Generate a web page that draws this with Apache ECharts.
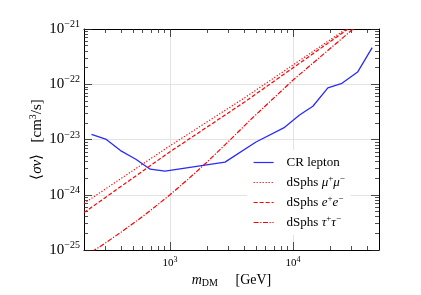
<!DOCTYPE html>
<html><head><meta charset="utf-8">
<script src="https://cdn.jsdelivr.net/npm/echarts@6/dist/echarts.min.js"></script>
<style>html,body{margin:0;padding:0;background:#fff}#c{width:421px;height:295px}</style>
</head><body><div id="c"></div>
<script>
// ---- data ----
const crX = [230, 300, 396, 528, 690, 910, 2800, 5000, 8400, 11300, 14500, 19200, 25000, 33500, 44000];
const crY = [1.24e-23, 1.02e-23, 6.3e-24, 4.4e-24, 2.9e-24, 2.67e-24, 3.9e-24, 9.0e-24, 1.62e-23, 2.77e-23, 4.0e-23, 8.6e-23, 1.04e-22, 1.66e-22, 4.6e-22];
const mumuX = [200, 1000, 4000, 27000];
const mumuY = [7.0e-25, 7.7e-24, 5.6e-23, 1e-21];
const eeX = [200, 1000, 4000, 28000];
const eeY = [4.75e-25, 6.0e-24, 4.7e-23, 1e-21];
const tauX = [200, 300, 400, 600, 800, 1000, 1400, 2000, 3000, 4490, 10000, 30800];
const tauY = [7.5e-26, 1.35e-25, 2.1e-25, 4.05e-25, 6.7e-25, 1.0e-24, 1.9e-24, 3.9e-24, 9.3e-24, 2.25e-23, 1.19e-22, 1e-21];
const seriesNames = ['CR lepton', 'dSphs μ+μ−', 'dSphs e+e−', 'dSphs τ+τ−'];
const legendLabels = [
  '{t|CR lepton}',
  '{t|dSphs }{i|μ}{s|+}{i|μ}{s|−}',
  '{t|dSphs }{i|e}{s|+}{i|e}{s|−}',
  '{t|dSphs }{i|τ}{s|+}{i|τ}{s|−}'
];
const xMajorTicks = [1e3, 1e4];
const yMajorExponents = [-25, -24, -23, -22, -21];
const xRange = [200, 50000];
const yRange = [1e-25, 1e-21];

// Tick axes for y are expressed in units of 10^yBaseExp (ECharts rounds tiny raw tick values to 0)
const yBaseExp = -25;
const yTickRange = [1, 1e4];
const yMajorTicksScaled = yMajorExponents.map(e => Math.pow(10, e - yBaseExp));

function minors(lo, hi, e0, e1) {
  const out = [];
  for (let e = e0; e <= e1; e++) {
    for (let k = 2; k <= 9; k++) {
      const v = k * Math.pow(10, e);
      if (v > lo * 1.0001 && v < hi * 0.9999) out.push(v);
    }
  }
  return out;
}
const xMinorTicks = minors(xRange[0], xRange[1], 2, 4);
const yMinorTicksScaled = minors(yTickRange[0], yTickRange[1], 0, 3);

const pairs = (xs, ys) => xs.map((x, i) => [x, ys[i]]);
const serif = 'Liberation Serif';
function supLabel(e) { return '{b|10}{s|' + (e < 0 ? '−' + (-e) : e) + '}'; }
const tickColor = '#222';

function tickAxis(pos, range, ticks, len, showLine, labelCfg) {
  return {
    type: 'log', logBase: 10, gridIndex: 0, position: pos,
    min: range[0], max: range[1],
    axisLine: { show: showLine, onZero: false, lineStyle: { color: '#000', width: 1 } },
    axisTick: { show: true, inside: true, length: len, customValues: ticks, lineStyle: { color: tickColor, width: 0.8 } },
    axisLabel: labelCfg ? Object.assign({ show: true, customValues: ticks }, labelCfg) : { show: false },
    splitLine: { show: !!labelCfg, lineStyle: { color: '#e3e3e3', width: 1 } },
    minorTick: { show: false }, minorSplitLine: { show: false }
  };
}

const xLabelCfg = {
  margin: 6,
  formatter: v => supLabel(Math.round(Math.log10(v))),
  rich: { b: { fontFamily: serif, fontSize: 11, color: '#000' },
          s: { fontFamily: serif, fontSize: 8, color: '#000', padding: [0, 0, 6, 0] } }
};
const yLabelCfg = {
  margin: 4,
  formatter: v => supLabel(Math.round(Math.log10(v)) + yBaseExp),
  rich: { b: { fontFamily: serif, fontSize: 15, color: '#000' },
          s: { fontFamily: serif, fontSize: 10, color: '#000', padding: [0, 0, 9, 0] } }
};

const xAxes = [
  tickAxis('bottom', xRange, xMajorTicks, 8, true, xLabelCfg),
  tickAxis('bottom', xRange, xMinorTicks, 4, false, null),
  tickAxis('top', xRange, xMajorTicks, 8, true, null),
  tickAxis('top', xRange, xMinorTicks, 4, false, null)
];
xAxes[0].name = '{i|m}{sub|DM}{t|     [GeV]}';
xAxes[0].nameLocation = 'middle';
xAxes[0].nameGap = 14;
xAxes[0].nameTextStyle = {
  rich: {
    i: { fontFamily: serif, fontStyle: 'italic', fontSize: 14, color: '#000' },
    sub: { fontFamily: serif, fontSize: 10, color: '#000', padding: [5, 0, 0, 0] },
    t: { fontFamily: serif, fontSize: 14, color: '#000' }
  }
};

// yAxis 0 carries the data (real units); the others draw ticks, labels and grid lines.
const yAxes = [
  {
    type: 'log', logBase: 10, gridIndex: 0, position: 'left',
    min: yRange[0], max: yRange[1],
    axisLine: { show: true, onZero: false, lineStyle: { color: '#000', width: 1 } },
    axisTick: { show: false }, axisLabel: { show: false }, splitLine: { show: false },
    minorTick: { show: false }, minorSplitLine: { show: false },
    name: '{t|⟨}{i|σv}{t|⟩   [cm}{s|3}{t|/s]}',
    nameLocation: 'middle', nameGap: 38, nameRotate: 90,
    nameTextStyle: {
      rich: {
        i: { fontFamily: serif, fontStyle: 'italic', fontSize: 15, color: '#000' },
        t: { fontFamily: serif, fontSize: 15, color: '#000' },
        s: { fontFamily: serif, fontSize: 10, color: '#000', padding: [0, 0, 8, 0] }
      }
    }
  },
  tickAxis('left', yTickRange, yMajorTicksScaled, 8, false, yLabelCfg),
  tickAxis('left', yTickRange, yMinorTicksScaled, 4, false, null),
  tickAxis('right', yTickRange, yMajorTicksScaled, 8, true, null),
  tickAxis('right', yTickRange, yMinorTicksScaled, 4, false, null)
];

const lineBase = { type: 'line', xAxisIndex: 0, yAxisIndex: 0, symbol: 'none', showSymbol: false, clip: true, z: 5 };
const option = {
  animation: false,
  backgroundColor: '#fff',
  grid: { left: 84, right: 42, top: 29, bottom: 45, containLabel: false },
  xAxis: xAxes,
  yAxis: yAxes,
  legend: {
    orient: 'vertical', left: 247, top: 150,
    backgroundColor: '#fff', borderWidth: 0,
    padding: [6, 6, 6, 6],
    itemWidth: 20, itemHeight: 14, itemGap: 5.5,
    itemStyle: { opacity: 0 },
    lineStyle: { width: 1.2 },
    data: seriesNames,
    formatter: name => legendLabels[seriesNames.indexOf(name)],
    textStyle: {
      fontFamily: serif, fontSize: 13, color: '#000', padding: [0, 0, 0, 8],
      rich: {
        t: { fontFamily: serif, fontSize: 13, color: '#000' },
        i: { fontFamily: serif, fontStyle: 'italic', fontSize: 13, color: '#000' },
        s: { fontFamily: serif, fontSize: 9, color: '#000', padding: [0, 0, 7, 0] }
      }
    }
  },
  series: [
    Object.assign({}, lineBase, { name: seriesNames[0], data: pairs(crX, crY), color: '#2a2aff', lineStyle: { color: '#2a2aff', width: 1.3, type: 'solid' } }),
    Object.assign({}, lineBase, { name: seriesNames[1], data: pairs(mumuX, mumuY), color: '#ff0000', lineStyle: { color: '#ff0000', width: 1.2, type: [1.2, 1.8] } }),
    Object.assign({}, lineBase, { name: seriesNames[2], data: pairs(eeX, eeY), color: '#ff0000', lineStyle: { color: '#ff0000', width: 1.2, type: [4, 2] } }),
    Object.assign({}, lineBase, { name: seriesNames[3], data: pairs(tauX, tauY), color: '#ff0000', lineStyle: { color: '#ff0000', width: 1.2, type: [5, 1.6, 1.2, 1.6] } })
  ]
};
const chart = echarts.init(document.getElementById('c'), null, { renderer: 'canvas' });
chart.setOption(option);
</script>
</body></html>
